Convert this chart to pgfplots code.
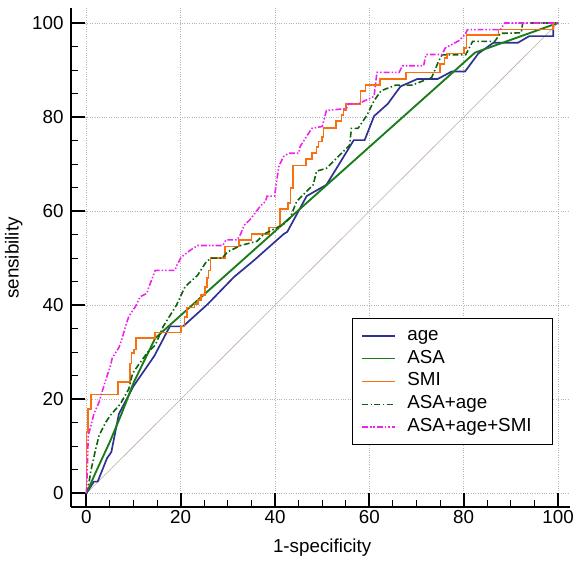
\documentclass[border=0pt]{standalone}
\usepackage{fontspec}
\setmainfont{Liberation Sans}
\usepackage{pgfplots}
\pgfplotsset{compat=1.18}
\definecolor{cage}{HTML}{2E3192}
\definecolor{casa}{HTML}{1A7D1A}
\definecolor{csmi}{HTML}{F8700F}
\definecolor{casaage}{HTML}{0B640B}
\definecolor{call}{HTML}{EE22EE}
\definecolor{cdiag}{HTML}{C0A8A8}
\definecolor{gridc}{HTML}{B4B4B4}
\newcommand\chartfont{\fontsize{19bp}{22bp}\selectfont}

\begin{document}
\begin{tikzpicture}
\path (-71.7bp,-56.3bp) rectangle (505.3bp,512.7bp);
\begin{axis}[
  at={(0,0)}, anchor=south west,
  scale only axis, width=504.3bp, height=504.7bp,
  xmin=-3.27, xmax=102.5, ymin=-2.94, ymax=103.2,
  axis x line*=bottom, axis y line*=left,
  axis line style={-, line width=2bp, black},
  xtick={0,20,...,100}, ytick={0,20,...,100}, minor tick num=3,
  major tick length=14bp, minor tick length=7bp,
  tick align=inside,
  major tick style={line width=1.8bp, black},
  minor tick style={line width=1bp, black},
  xmajorgrids, ymajorgrids,
  major grid style={gridc, dotted, line width=0.7bp},
  tick label style={font=\chartfont, text=black},
  yticklabel style={xshift=-4bp},
  /pgf/number format/assume math mode=true,
  label style={font=\chartfont},
  xlabel={1-specificity}, ylabel={sensibility},
  xlabel style={at={(axis description cs:0.5035,-0.08)}, anchor=center},
  ylabel style={at={(axis description cs:-0.1144,0.499)}, anchor=center, rotate=0},
  legend cell align=left,
  legend style={at={(rel axis cs:0.563,0.379)}, anchor=north west,
    draw=black, line width=1.4bp, fill=white,
    inner xsep=9bp, inner ysep=6bp, column sep=12bp, row sep=0bp,
    font=\chartfont,
    nodes={text width=138bp, inner xsep=0bp, inner ysep=3bp, text height=13bp, text depth=4bp}},
  legend image code/.code={\draw[#1, line width=1.4bp] (0bp,0bp) -- (33bp,0bp);},
]
\addplot[cdiag, line width=0.6bp, forget plot] coordinates {(0,0) (100,100)};

% age
\addplot[cage, line width=1.7bp] coordinates {
(0,0) (1.6,2.5) (2.4,2.5) (4.4,7.5) (5.3,8.8) (6.9,16.9) (10,22.8) (14.4,29.2)
(17.7,35.5) (20.5,35.5) (25.7,40.2) (31.3,46) (35.5,49.5) (41.8,55.1) (42.6,55.6)
(45.3,60.6) (46.7,63.2) (50.9,65.6) (56.7,75.1) (59,75.1) (61,80.2) (63.9,82.8)
(66.6,86.5) (70.2,88.1) (74.5,88.1) (77.5,89.7) (80.3,89.7) (83.1,93.5) (86.3,95.8)
(91.5,95.8) (93.9,97.2) (99,97.2) (99,100) (100,100)};
\addlegendentry{age}

% ASA
\addplot[casa, line width=1.9bp] coordinates {
(0,0) (2,4.5) (5,11) (7.5,17) (10,23.5) (14.6,33) (82.4,93.7) (100,100)};
\addlegendentry{ASA}

% SMI
\addplot[csmi, line width=1.7bp] coordinates {
(0,0) (0,13) (0.4,13) (0.4,18) (1,18) (1,21) (6.7,21) (6.7,23.7) (9.2,23.7)
(9.2,27.6) (9.6,27.6) (9.6,29.9) (10.1,29.9) (10.1,30.6) (10.5,30.6) (10.5,33)
(14.6,33) (14.6,34.2) (20.1,34.2) (20.1,35.5) (20.8,35.5) (20.8,37.5) (21.4,37.5)
(21.4,39.5) (22.9,39.5) (22.9,40.3) (23.6,40.3) (23.6,41.1) (24.3,41.1) (24.3,42.2)
(25.2,42.2) (25.2,43.9) (25.6,43.9) (25.6,45.8) (25.9,45.8) (25.9,47.4) (26.3,47.4)
(26.3,50) (29.4,50) (29.4,52.5) (32.4,52.5) (32.4,53.9) (35,53.9) (35,55.1)
(38.7,55.1) (38.7,56.5) (41,56.5) (41,60.5) (42.8,60.5) (42.8,61.8) (43.3,61.8)
(43.3,64.9) (43.8,64.9) (43.8,69.7) (46.6,69.7) (46.6,71.1) (47.8,71.1) (47.8,72.4)
(48.8,72.4) (48.8,73.6) (49.2,73.6) (49.2,74.8) (49.9,74.8) (49.9,75.8) (50.3,75.8)
(50.3,77.6) (52.9,77.6) (52.9,79.1) (54.1,79.1) (54.1,80.4) (54.5,80.4) (54.5,81.5)
(55,81.5) (55,82.8) (58.1,82.8) (58.1,85.6) (59.2,85.6) (59.2,86.8) (62.2,86.8)
(62.2,88.1) (67.7,88.1) (67.7,89.5) (75,89.5) (75,91.3) (75.9,91.3) (75.9,92.6)
(76.4,92.6) (76.4,93.5) (80.1,93.5) (80.1,94.7) (80.6,94.7) (80.6,97.4) (87.4,97.4)
(87.4,98.6) (99,98.6) (99,100) (100,100)};
\addlegendentry{SMI}

% ASA+age
\addplot[casaage, line width=1.6bp, dash pattern=on 6bp off 2.5bp on 1.5bp off 2.5bp] coordinates {
(0,0) (0.5,2) (1,5) (2,9.5) (2.7,12.3) (4.1,15.1) (5.1,16.6) (7.2,19) (9,22.2)
(9.8,25.5) (11.1,27.4) (13,30) (14.6,31.5) (16.3,35.5) (19.1,40) (20.9,43.9)
(23.6,46.4) (25.4,49.2) (26.4,50) (28.8,50) (29.9,51.3) (32.7,52.7) (36.2,53.6)
(37.6,55.1) (41.8,57.2) (43.2,58.6) (44.6,62.1) (48.1,65.6) (48.8,68.5) (50.9,69.1)
(55.8,74) (56.2,77.6) (57.6,77.6) (59.5,80.4) (61,83.5) (62.5,85.6) (65.6,86.8)
(69.1,86.8) (73.2,88.4) (74.7,91.9) (75.4,93.2) (80.4,93.2) (81.9,96.1) (86.6,96.1)
(87.8,97.8) (92.2,97.9) (92.5,100) (100,100)};
\addlegendentry{ASA+age}

% ASA+age+SMI
\addplot[call, line width=1.6bp, dash pattern=on 6bp off 2bp on 1.5bp off 2bp on 1.5bp off 2bp] coordinates {
(0,0) (0.2,5) (0.4,12.3) (1,14.5) (1.6,16.9) (2.7,19.4) (3.4,21.8) (4.4,25)
(5.1,27.1) (5.5,28.8) (6.2,29.9) (6.9,31) (7.6,33) (8.3,35.5) (9,37.6) (10.4,39.7)
(11.4,41.8) (12.8,42.5) (13.5,44.5) (14.6,47.4) (18.8,47.4) (19.2,48.5) (20.1,50.2)
(21.9,51.6) (23.6,52.7) (28.9,52.7) (29.6,53.9) (32,53.9) (32.7,55.1) (33.4,56.9)
(34.8,58.3) (36.9,61.1) (38,62.1) (38.3,63.2) (39.9,63.2) (40.8,69.5) (41.8,71.6)
(42.9,72.3) (45,72.3) (45.3,73.7) (46,74.8) (47.8,77.6) (50,78) (50.9,81.4)
(55.1,81.8) (55.6,82.8) (57.6,82.8) (61,84.4) (61.6,89.5) (66.3,89.5) (67,90.9)
(71.5,90.9) (72,93.3) (75.4,93.3) (76.1,94.7) (78.2,95.8) (78.9,96.2) (80.3,97.5)
(80.8,98.6) (87.8,98.6) (88.7,100) (100,100)};
\addlegendentry{ASA+age+SMI}
\end{axis}
\end{tikzpicture}
\end{document}
